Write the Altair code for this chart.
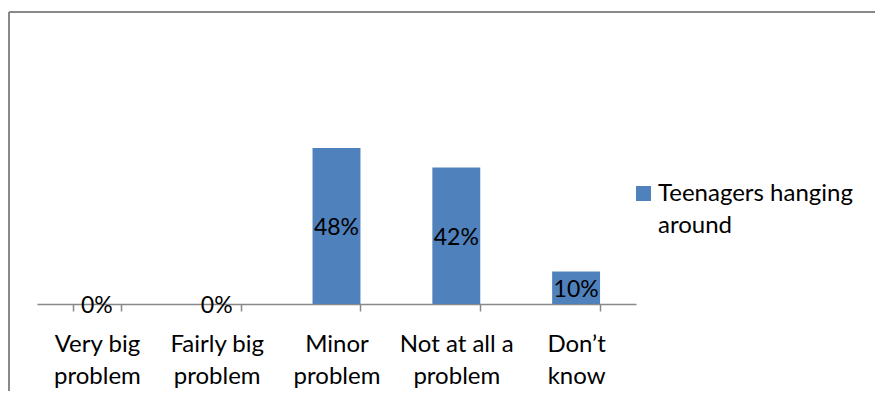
import altair as alt
import pandas as pd

categories = ["Very big\nproblem", "Fairly big\nproblem", "Minor\nproblem",
              "Not at all a\nproblem", "Don\u2019t\nknow"]
values = [0, 0, 48, 42, 10]
series = "Teenagers hanging\naround"

df = pd.DataFrame({"category": categories, "value": values, "series": series})

W, H = 599, 195
PAD = {"left": 29, "top": 101, "right": 239, "bottom": 87}
FONT = "Lato"
BAR = "#4F81BD"
GRAY = "#898989"

base = alt.Chart(df).encode(
    x=alt.X("category:N", sort=categories,
            scale=alt.Scale(paddingInner=0.6, paddingOuter=0.3),
            axis=alt.Axis(title=None, labelAngle=0, tickBand="extent",
                          labelExpr="split(datum.label, '\\n')",
                          labelFont=FONT, labelFontSize=24, labelColor="#000",
                          labelLineHeight=32, labelBaseline="top",
                          labelPadding=21, tickSize=7, tickColor=GRAY,
                          tickWidth=1.5, domainColor=GRAY, domainWidth=1.5,
                          grid=False))
)

bars = base.mark_bar(color=BAR).encode(
    y=alt.Y("value:Q", scale=alt.Scale(domain=[0, 60]), axis=None),
)

labels = base.mark_text(font=FONT, fontSize=23, color="#000",
                        baseline="middle", dy=2).transform_calculate(
    mid="datum.value / 2", lab="datum.value + '%'"
).encode(y=alt.Y("mid:Q", scale=alt.Scale(domain=[0, 60])), text="lab:N")

# legend (series name from the data)
leg_df = pd.DataFrame({"series": [series]})
leg_sym = alt.Chart(leg_df).mark_square(color=BAR, size=225, opacity=1).encode(
    x=alt.value(606.5), y=alt.value(84.5))
leg_txt = alt.Chart(leg_df).mark_text(
    font=FONT, fontSize=24, color="#000", align="left", baseline="alphabetic",
    lineHeight=32).transform_calculate(
    lines="split(datum.series, '\\n')").encode(
    x=alt.value(621), y=alt.value(92), text="lines:N")

frame_data = alt.Data(values=[{"k": 1}])
left_line = alt.Chart(frame_data).mark_rule(color=GRAY, strokeWidth=2).encode(
    x=alt.value(-28), y=alt.value(-97), y2=alt.value(H + PAD["bottom"]))
top_line = alt.Chart(frame_data).mark_rule(color=GRAY, strokeWidth=2).encode(
    x=alt.value(-28), x2=alt.value(W + PAD["right"]), y=alt.value(-97))

chart = alt.layer(bars, labels, leg_sym, leg_txt, left_line, top_line).properties(
    width=W, height=H, padding=PAD,
    autosize=alt.AutoSizeParams(type="none"),
).configure_view(stroke=None)

chart.save("out.html", embed_options={"renderer": "svg", "actions": False})
